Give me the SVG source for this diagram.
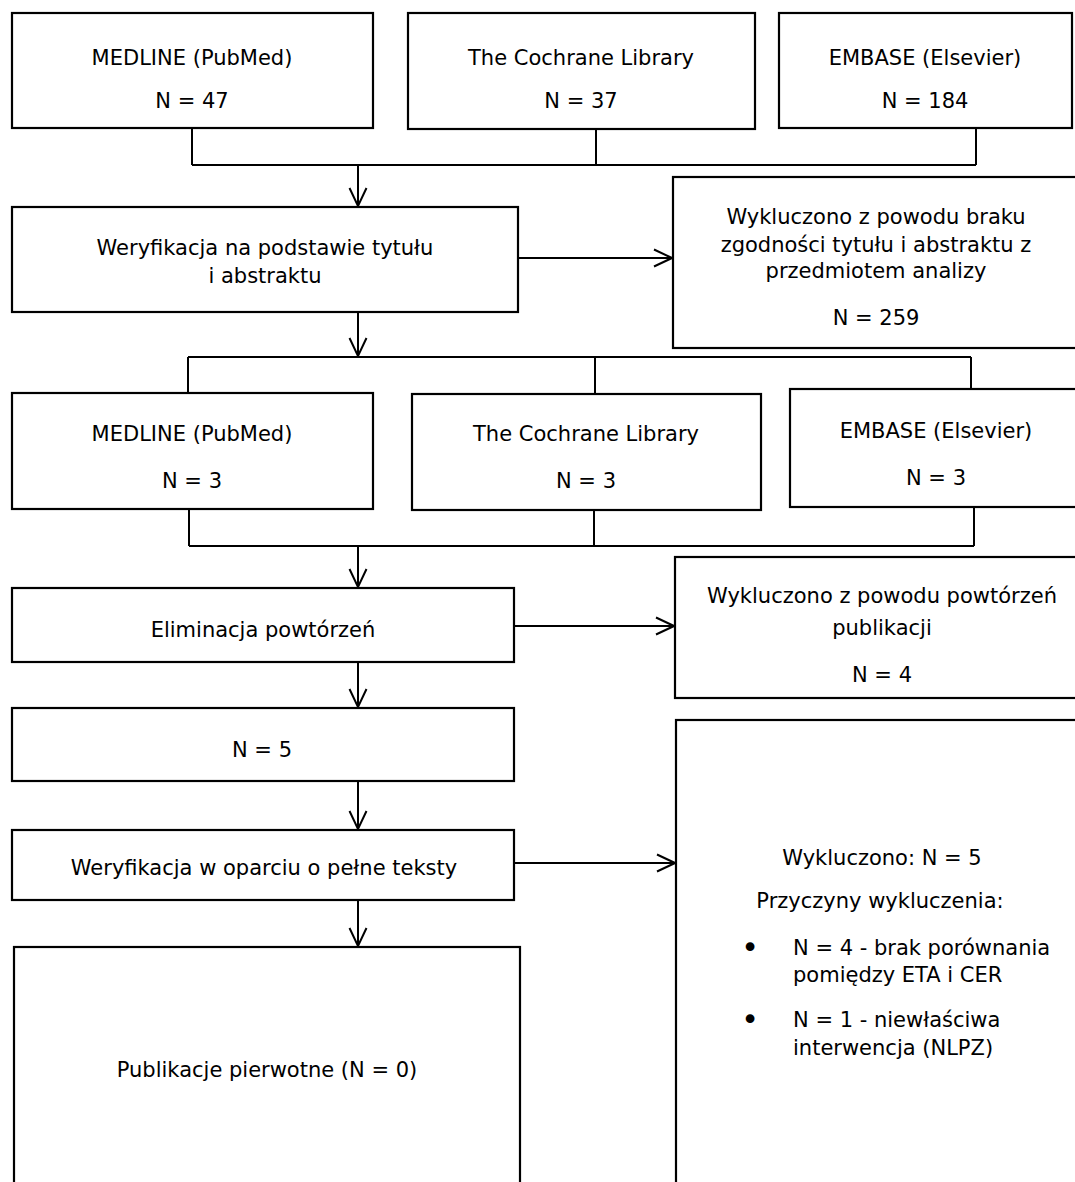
<svg xmlns="http://www.w3.org/2000/svg" width="1075" height="1182" viewBox="0 0 1075 1182">
<style>
.box{fill:#fff;stroke:#000;stroke-width:2.2}
.t{font-family:"DejaVu Sans",Verdana,sans-serif;font-size:21px;fill:#000;text-anchor:middle}
.l{text-anchor:start}
.b{font-size:30px}
.c{fill:none;stroke:#000;stroke-width:2}
</style>
<defs>
<marker id="ah" viewBox="0 0 20 20" refX="19" refY="10" markerWidth="20" markerHeight="20" markerUnits="userSpaceOnUse" orient="auto">
<path d="M1,1.5 L19,10 L1,18.5" fill="none" stroke="#000" stroke-width="2"/>
</marker>
</defs>
<rect width="1075" height="1182" fill="#fff"/>
<g id="connectors">
<path class="c" d="M192,128 V165 M596,129 V165 M976,128 V165 M192,165 H976"/>
<path class="c" d="M358,165 V206" marker-end="url(#ah)"/>
<path class="c" d="M518,258 H672" marker-end="url(#ah)"/>
<path class="c" d="M358,312 V356" marker-end="url(#ah)"/>
<path class="c" d="M188,357 H971 M188,357 V393 M595,357 V394 M971,357 V389"/>
<path class="c" d="M189,509 V546 M594,510 V546 M974,507 V546 M189,546 H974"/>
<path class="c" d="M358,546 V587" marker-end="url(#ah)"/>
<path class="c" d="M514,626 H674" marker-end="url(#ah)"/>
<path class="c" d="M358,662 V707" marker-end="url(#ah)"/>
<path class="c" d="M358,781 V829" marker-end="url(#ah)"/>
<path class="c" d="M514,863 H675" marker-end="url(#ah)"/>
<path class="c" d="M358,900 V946" marker-end="url(#ah)"/>
</g>
<g id="medline1"><rect class="box" x="12" y="13" width="361" height="115"/>
<text class="t" x="192" y="65">MEDLINE (PubMed)</text><text class="t" x="192" y="108">N = 47</text></g>
<g id="cochrane1"><rect class="box" x="408" y="13" width="347" height="116"/>
<text class="t" x="581" y="65">The Cochrane Library</text><text class="t" x="581" y="108">N = 37</text></g>
<g id="embase1"><rect class="box" x="779" y="13" width="293" height="115"/>
<text class="t" x="925" y="65">EMBASE (Elsevier)</text><text class="t" x="925" y="108">N = 184</text></g>
<g id="weryf1"><rect class="box" x="12" y="207" width="506" height="105"/>
<text class="t" x="265" y="255">Weryfikacja na podstawie tytułu</text><text class="t" x="265" y="283">i abstraktu</text></g>
<g id="excl1"><rect class="box" x="673" y="177" width="420" height="171"/>
<text class="t" x="876" y="224">Wykluczono z powodu braku</text>
<text class="t" x="876" y="252">zgodności tytułu i abstraktu z</text>
<text class="t" x="876" y="278">przedmiotem analizy</text>
<text class="t" x="876" y="325">N = 259</text></g>
<g id="medline2"><rect class="box" x="12" y="393" width="361" height="116"/>
<text class="t" x="192" y="441">MEDLINE (PubMed)</text><text class="t" x="192" y="488">N = 3</text></g>
<g id="cochrane2"><rect class="box" x="412" y="394" width="349" height="116"/>
<text class="t" x="586" y="441">The Cochrane Library</text><text class="t" x="586" y="488">N = 3</text></g>
<g id="embase2"><rect class="box" x="790" y="389" width="300" height="118"/>
<text class="t" x="936" y="438">EMBASE (Elsevier)</text><text class="t" x="936" y="485">N = 3</text></g>
<g id="elim"><rect class="box" x="12" y="588" width="502" height="74"/>
<text class="t" x="263" y="637">Eliminacja powtórzeń</text></g>
<g id="excl2"><rect class="box" x="675" y="557" width="420" height="141"/>
<text class="t" x="882" y="603">Wykluczono z powodu powtórzeń</text>
<text class="t" x="882" y="635">publikacji</text>
<text class="t" x="882" y="682">N = 4</text></g>
<g id="n5"><rect class="box" x="12" y="708" width="502" height="73"/>
<text class="t" x="262" y="757">N = 5</text></g>
<g id="weryf2"><rect class="box" x="12" y="830" width="502" height="70"/>
<text class="t" x="264" y="875">Weryfikacja w oparciu o pełne teksty</text></g>
<g id="publ"><rect class="box" x="14" y="947" width="506" height="260"/>
<text class="t" x="267" y="1077">Publikacje pierwotne (N = 0)</text></g>
<g id="excl3"><rect class="box" x="676" y="720" width="420" height="490"/>
<text class="t" x="882" y="865">Wykluczono: N = 5</text>
<text class="t" x="880" y="908">Przyczyny wykluczenia:</text>
<text class="t b" x="750" y="958">•</text>
<text class="t l" x="793" y="955">N = 4 - brak porównania</text>
<text class="t l" x="793" y="982">pomiędzy ETA i CER</text>
<text class="t b" x="750" y="1030">•</text>
<text class="t l" x="793" y="1027">N = 1 - niewłaściwa</text>
<text class="t l" x="793" y="1055">interwencja (NLPZ)</text></g>
</svg>
